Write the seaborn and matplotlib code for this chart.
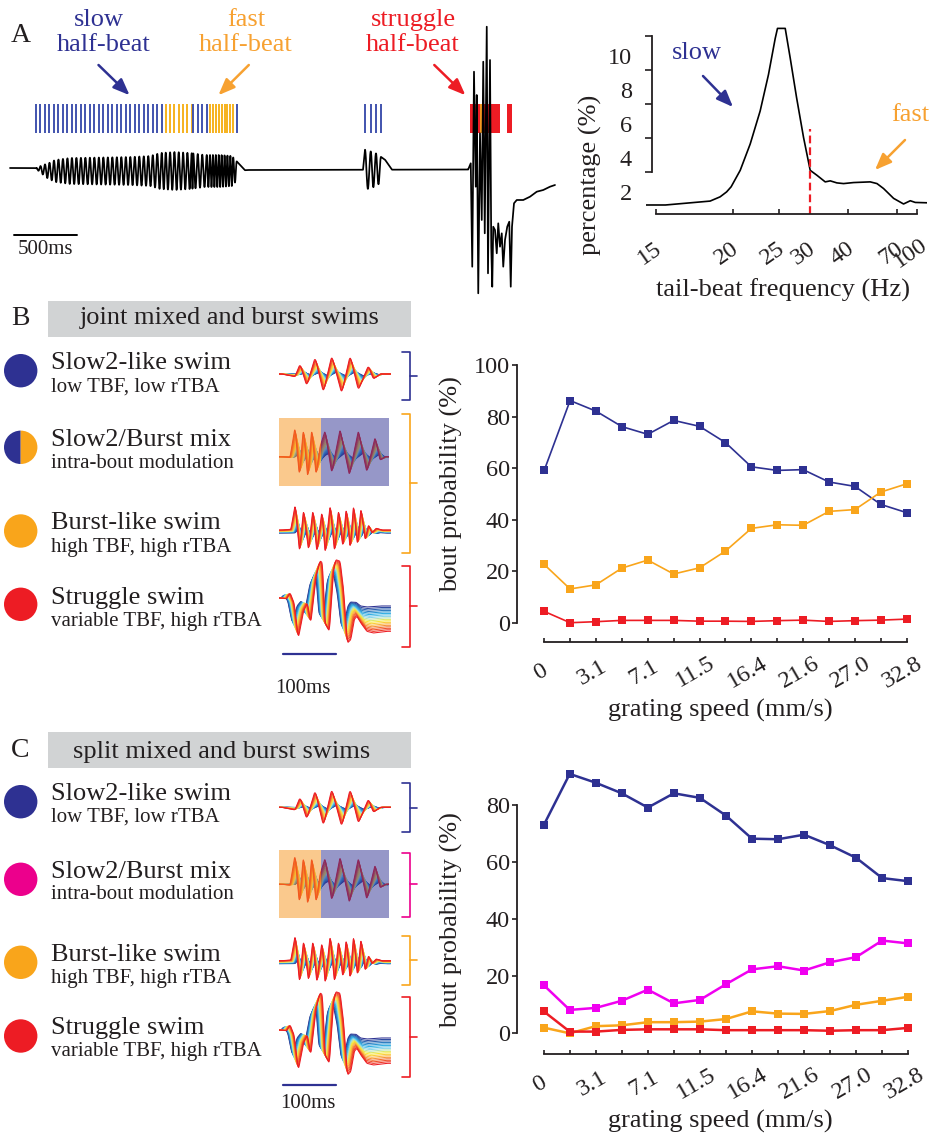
import numpy as np
import pandas as pd
import matplotlib
matplotlib.use("Agg")
import matplotlib.pyplot as plt
import matplotlib.transforms as mtransforms
from matplotlib.patches import Circle, Wedge, Rectangle
from matplotlib.colors import LinearSegmentedColormap
from matplotlib.ticker import NullLocator
import seaborn as sns

sns.set_theme(style="ticks")
INK = "#231F20"
plt.rcParams["font.family"] = ["Liberation Serif", "DejaVu Serif"]
plt.rcParams.update({"text.color": INK, "axes.labelcolor": INK, "xtick.color": INK,
                     "ytick.color": INK, "axes.edgecolor": INK})

NAVY = "#2E3192"; ORANGE = "#F9A51B"; RED = "#ED1C24"; MAGENTA = "#F000F0"; PINK = "#EC008C"
RASTER_BLUE = "#4153AE"; RASTER_ORANGE = "#F6B21E"; GREY = "#D1D3D4"; TXT_ORANGE = "#F7A131"

# ------------------------------------------------------------------ data
# Panel A (right): tail-beat frequency distribution
tbf_hz = [14.52, 15.47, 18.2, 18.95, 19.47, 19.85, 20.66, 21.63, 22.69, 23.66, 24.51, 24.81,
          25.89, 26.64, 27.66, 28.86, 30.12, 31.5, 33.4, 34.67, 36.5, 38.53, 42.05, 49.6,
          53.5, 57.9, 66.3, 77.4, 87.3, 96.4, 127.8]
tbf_pct = [0.06, 0.06, 0.29, 0.54, 0.83, 1.13, 2.10, 3.65, 5.59, 7.73, 9.86, 10.45,
           10.45, 8.70, 6.37, 4.04, 2.10, 1.81, 1.42, 1.48, 1.36, 1.32, 1.38, 1.42,
           1.32, 1.03, 0.45, 0.12, 0.31, 0.21, 0.19]
tbf_ticks = [15, 20, 25, 30, 40, 70, 100]
tbf_threshold = 30
tbf_threshold_top = 4.52
pct_ticks = [2, 4, 6, 8, 10]

# Panels B / C: bout probability vs grating speed
speed_labels = ["0", "", "3.1", "", "7.1", "", "11.5", "", "16.4", "", "21.6", "", "27.0", "", "32.8"]
B_slow = [59.1, 86.2, 82.1, 76.1, 73.1, 78.5, 76.2, 69.9, 60.5, 59.1, 59.4, 54.6, 52.9, 45.9, 42.7]
B_burst = [22.6, 13.1, 14.7, 21.2, 24.3, 18.9, 21.3, 27.8, 36.6, 38.0, 37.8, 43.2, 43.9, 50.7, 53.9]
B_struggle = [4.4, 0.0, 0.4, 0.9, 0.9, 0.9, 0.6, 0.6, 0.5, 0.8, 1.0, 0.5, 0.8, 1.0, 1.4]
C_slow = [72.9, 90.9, 87.8, 84.1, 79.1, 84.1, 82.5, 76.3, 68.2, 68.0, 69.6, 65.9, 61.5, 54.4, 53.3]
C_mix = [16.9, 8.2, 8.9, 11.4, 15.3, 10.5, 11.7, 17.2, 22.4, 23.5, 22.0, 24.9, 26.7, 32.5, 31.5]
C_burst = [2.0, 0.0, 2.5, 2.8, 3.9, 3.9, 4.1, 5.0, 7.7, 6.9, 6.8, 7.8, 10.0, 11.4, 12.8]
C_struggle = [7.7, 0.6, 0.6, 1.2, 1.4, 1.4, 1.4, 1.1, 1.1, 1.1, 1.1, 0.9, 1.1, 1.1, 1.9]

# Panel A (left): example tail trace (ms, px)
raster_start = [208, 1246, 1466, 1600, 1814]
raster_end = [1214, 1454, 1574, 1786, 1814]
raster_count = [29, 7, 4, 9, 1]
raster_kind = ["slow", "fast", "slow", "fast", "slow"]
bout2_beats = [2840, 2886, 2928, 2968]
struggle_spans = [(3680, 3920), (3974, 4014)]
struggle_fast_beat = [3768]
env1_t = [214, 280, 360, 480, 720, 960, 1120, 1200, 1320, 1440, 1560, 1680, 1776, 1824, 1880]
env1_a = [1, 6, 11, 13, 13.5, 14, 15, 18, 19, 18, 16, 16, 15, 8, 0]
env2_t = [2824, 2840, 2920, 3000, 3040, 3056]
env2_a = [0, 20, 17, 10, 3, 0]
offset_t = [0, 200, 300, 1800, 1900, 3666]
offset_v = [0, 0, -3, -3, -2, -1.5]
struggle_t = [3666, 3686, 3698, 3712, 3726, 3734, 3746, 3760, 3774, 3786, 3798, 3814, 3824, 3840,
              3850, 3858, 3866, 3880, 3894, 3906, 3920, 3934, 3946, 3960, 3978, 3994, 4006, 4016,
              4032, 4054, 4106, 4160, 4214, 4266, 4320, 4360]
struggle_v = [-1.3, 4.7, -98.7, 96.3, -18.7, 73, -125.3, 34.7, -52, 106.3, -65.3, 141.3, -105.3, 108,
              -78.7, -118.7, -58.7, -62, -85.3, -55.3, -78.7, -65.3, -98.7, -72, -58.7, -53.7, -118.7,
              -58.7, -35.3, -32, -32, -28.7, -23.7, -22, -18.7, -17]

# Panels B / C (left): swim-type waveform templates (ms, px)
slow_t = [0, 25, 34.5, 47, 63, 78.5, 94.3, 113, 129, 144.5, 163.4, 172.8, 185.5, 201]
slow_v = [0, -2.7, 10, -11.7, 16.7, -18.3, 18.3, -19.3, 18.3, -16, 8.3, -5, 0, 0]
mix_t = [0, 15.7, 25.1, 33.3, 40.8, 49, 56.6, 64.7, 72.3, 81.7, 94.3, 110, 127.5, 144.5, 160.4,
         176, 185.5, 195, 201.3]
mix_v = [0, -0.7, 29.3, -19.3, 28.3, -21.7, 28.3, -18.3, 10, 26, -16, 27.3, -18.3, 26, -15,
         19.3, -3.3, 0, 0]
burst_t = [0, 17, 25.1, 33.3, 40.8, 50.2, 58.5, 66, 75.5, 81.7, 91.1, 99.3, 106.8, 115.1, 121.3,
           128.9, 135.1, 142.6, 149.1, 157.2, 163.4, 169.8, 177.9, 188.7, 198.1]
burst_v = [0, 0.7, 25, -21.7, 20, -20, 20, -21.7, 18.3, -23.3, 25, -21.7, 20, -16.7, 21.7,
           -18.3, 25, -15, 21.7, -10, 5, -2.7, 1.7, 0, 0]
strug_t = [0, 9.4, 15.7, 23.2, 31.3, 40.8, 48.3, 54.7, 64.7, 72.3, 76.6, 81.7, 89.8, 97.4, 101.9,
           110, 116.2, 123.8, 130.2, 136.4, 141.5, 149.1, 160.4, 172.8, 198.1]
strug_v = [0, -0.7, 5, -5, -40, -13.3, -5, -25, 21.7, 37.3, 35, -25, -33.3, 26.7, 38.3,
           36.7, 10, -45, -41.7, -21.7, -18.3, -25, -33.3, -35, -33.3]

row_titles = ["Slow2-like swim", "Slow2/Burst mix", "Burst-like swim", "Struggle swim"]
row_subtitles = ["low TBF, low rTBA", "intra-bout modulation", "high TBF, high rTBA",
                 "variable TBF, high rTBA"]

# ------------------------------------------------------------------ layout helpers
W, H = 931, 1138
fig = plt.figure(figsize=(W / 100, H / 100), dpi=100)
fig.patch.set_facecolor("white")


def rect(l, t, r, b):
    return [l / W, 1 - b / H, (r - l) / W, (b - t) / H]


ov = fig.add_axes([0, 0, 1, 1])
ov.set_xlim(0, W)
ov.set_ylim(H, 0)
ov.axis("off")


def arrow(x0, y0, x1, y1, color):
    ov.annotate("", xy=(x1, y1), xytext=(x0, y0),
                arrowprops=dict(arrowstyle="-|>,head_length=0.55,head_width=0.22", color=color,
                                lw=1.8, shrinkA=0, shrinkB=0, mutation_scale=18))


# ------------------------------------------------------------------ Panel A left: trace
axT = fig.add_axes(rect(0, 0, 560, 300))
axT.set_xlim(-80, 4400)
axT.set_ylim(-132, 168)
axT.axis("off")

events, kinds = [], []
for s, e, n, k in zip(raster_start, raster_end, raster_count, raster_kind):
    ev = np.linspace(s, e, n)
    events.extend(ev)
    kinds.extend([k] * n)
events = np.array(events)
for ev, k in zip(events, kinds):
    axT.vlines(ev, 35, 64, color=RASTER_BLUE if k == "slow" else RASTER_ORANGE, lw=1.4)
axT.vlines(bout2_beats, 35, 64, color=RASTER_BLUE, lw=1.4)
for s, e in struggle_spans:
    axT.fill_between([s, e], 35, 64, color=RED, lw=0)
axT.vlines(struggle_fast_beat, 35, 64, color=RASTER_ORANGE, lw=1.2)

all_ev = np.concatenate([events, bout2_beats])
tg = np.arange(0, 3666, 0.5)
phase = np.interp(tg, all_ev, 2 * np.pi * np.arange(len(all_ev)))
env = np.interp(tg, env1_t, env1_a, left=0, right=0) + np.interp(tg, env2_t, env2_a, left=0, right=0)
trace_v = np.interp(tg, offset_t, offset_v) + env * np.cos(phase)
full_t = np.concatenate([tg, struggle_t])
full_v = np.concatenate([trace_v, struggle_v])
sns.lineplot(x=full_t, y=full_v, sort=False, estimator=None, color="black", lw=1.25, ax=axT)
axT.plot([34, 534], [168 - 234.8] * 2, color="black", lw=1.4)
axT.set_zorder(2)

ov.text(20.8, 35, "A", fontsize=20, ha="center", va="center")
ov.text(98.5, 20, "slow", fontsize=19, color=NAVY, ha="center", va="center")
ov.text(103.8, 45, "half-beat", fontsize=19, color=NAVY, ha="center", va="center")
ov.text(246, 20, "fast", fontsize=19, color=TXT_ORANGE, ha="center", va="center")
ov.text(245.4, 45, "half-beat", fontsize=19, color=TXT_ORANGE, ha="center", va="center")
ov.text(413, 20, "struggle", fontsize=19, color=RED, ha="center", va="center")
ov.text(413, 45, "half-beat", fontsize=19, color=RED, ha="center", va="center")
arrow(98.5, 65, 129.6, 95.2, NAVY)
arrow(248.8, 65, 218.4, 95.2, TXT_ORANGE)
arrow(434.3, 65, 465.4, 95.2, RED)
ov.text(45.8, 249.8, "500ms", fontsize=15, ha="center", va="center")

# ------------------------------------------------------------------ Panel A right: TBF distribution
axA = fig.add_axes(rect(646, 26.7, 927, 214))
sns.lineplot(x=tbf_hz, y=tbf_pct, color="black", lw=1.2, ax=axA, estimator=None)


def fwd(f):
    f = np.asarray(f, dtype=float)
    with np.errstate(divide="ignore", invalid="ignore"):
        return -1.0 / f


def inv(p):
    p = np.asarray(p, dtype=float)
    with np.errstate(divide="ignore", invalid="ignore"):
        return -1.0 / p


axA.set_xscale("function", functions=(fwd, inv))
axA.set_xlim(min(tbf_hz), max(tbf_hz))
axA.set_ylim(-0.47, 10.55)
axA.vlines(tbf_threshold, -0.47, tbf_threshold_top, color=RED, lw=1.6, linestyles=(0, (3.5, 1.8)))
axA.set_xticks(tbf_ticks)
axA.set_xticklabels([str(v) for v in tbf_ticks])
axA.xaxis.set_minor_locator(NullLocator())
axA.set_yticks(pct_ticks)
axA.set_yticklabels([str(v) for v in pct_ticks])
for s in ["top", "right"]:
    axA.spines[s].set_visible(False)
axA.spines["left"].set_position(("data", 14.8))
axA.spines["left"].set_bounds(2, 10)
axA.spines["bottom"].set_bounds(15, 100)
for s in ["left", "bottom"]:
    axA.spines[s].set_linewidth(1.3)
axA.tick_params(axis="y", direction="out", length=5, width=1.2, pad=9.5, labelsize=17.5)
axA.tick_params(axis="x", direction="in", length=3.6, width=1.2, pad=28.5, labelsize=17.5)
axA.set_xlabel("tail-beat frequency (Hz)", fontsize=19, va="center")
axA.set_ylabel("percentage (%)", fontsize=19, va="center")
axA.xaxis.set_label_coords(0.489, -0.406)
axA.yaxis.set_label_coords(-0.199, 0.208)
axA.patch.set_alpha(0)
ov.text(696.7, 53.3, "slow", fontsize=19, color=NAVY, ha="center", va="center")
ov.text(910, 115, "fast", fontsize=19, color=TXT_ORANGE, ha="center", va="center")
arrow(703, 76, 733, 107, NAVY)
arrow(905, 140, 875, 170, TXT_ORANGE)


# ------------------------------------------------------------------ Panels B / C right
def prob_panel(box, ylim, yticks, series, names, colors, lw, ms, xlabel_xy, ylabel_xy):
    ax = fig.add_axes(rect(*box))
    idx = np.arange(len(speed_labels))
    df = pd.concat([pd.DataFrame({"speed": idx, "prob": s, "type": n}) for s, n in zip(series, names)])
    sns.lineplot(data=df, x="speed", y="prob", hue="type", hue_order=names,
                 palette=dict(zip(names, colors)), marker="s", markersize=ms, markeredgewidth=0,
                 lw=lw, legend=False, estimator=None, ax=ax)
    ax.set_xlim(*ylim[0])
    ax.set_ylim(*ylim[1])
    ax.set_xticks(idx)
    ax.set_xticklabels(speed_labels)
    ax.set_yticks(yticks)
    ax.set_yticklabels([str(v) for v in yticks])
    for s in ["top", "right"]:
        ax.spines[s].set_visible(False)
    ax.spines["left"].set_bounds(yticks[0], yticks[-1])
    ax.spines["bottom"].set_bounds(0, len(idx) - 1)
    for s in ["left", "bottom"]:
        ax.spines[s].set_linewidth(1.3)
    ax.tick_params(axis="y", direction="out", length=3.5, width=1.2, pad=1.5, labelsize=17.5)
    ax.tick_params(axis="x", direction="in", length=3.2, width=1.2, pad=21.5, labelsize=17.5)
    for lbl in ax.get_xticklabels():
        lbl.set_rotation(30)
        lbl.set_ha("center")
        lbl.set_va("center")
        lbl.set_rotation_mode("anchor")
    ax.set_xlabel("grating speed (mm/s)", fontsize=19, va="center")
    ax.set_ylabel("bout probability (%)", fontsize=19, va="center")
    ax.xaxis.set_label_coords(*xlabel_xy)
    ax.yaxis.set_label_coords(*ylabel_xy)
    ax.patch.set_alpha(0)
    return ax


axB = prob_panel((517, 365, 914.5, 642.3), ((-1.05, 14.3), (-7.6, 100)), [0, 20, 40, 60, 80, 100],
                 [B_slow, B_burst, B_struggle], ["slow", "burst", "struggle"], [NAVY, ORANGE, RED],
                 1.2, 5.5, (0.511, -0.244), (-0.164, 0.571))
axC = prob_panel((517, 767.9, 916, 1054), ((-1.025, 14.3), (-7.25, 93.0)), [0, 20, 40, 60, 80],
                 [C_slow, C_mix, C_burst, C_struggle], ["slow", "mix", "burst", "struggle"],
                 [NAVY, MAGENTA, ORANGE, RED], 1.8, 6, (0.509, -0.237), (-0.164, 0.468))

# ------------------------------------------------------------------ Panels B / C left: legend column
wf_cmap = LinearSegmentedColormap.from_list(
    "wf", ["#2E3192", "#2B6CB5", "#29ABE2", "#9ADCEB", "#F9ED32", "#FBB040", "#F15A29", "#ED1C24"])
N_WF = 18
wf_pal = {i: wf_cmap(i / (N_WF - 1)) for i in range(N_WF)}
T_LEFT = -5.1  # ms at x = 279 px (100 ms = 53 px)


def wf_axes(base, up, dn, right=391):
    ax = fig.add_axes(rect(279, base - up, right, base + dn))
    ax.set_xlim(T_LEFT, T_LEFT + (right - 279) * 100 / 53)
    ax.set_ylim(-dn, up)
    ax.axis("off")
    return ax


def family(ax, tt, vv, shift, amp_min, amp_pow, drift=0.0, level=0.0, smooth=5):
    grid = np.arange(-5.0, 206.0, 0.5)
    ramp = np.interp(grid, [0, 115, 140, 210], [0, 0, 1, 1])
    kern = np.ones(smooth) / smooth
    frames = []
    for i in range(N_WF):
        frac = i / (N_WF - 1)
        a = amp_min + (1 - amp_min) * frac ** amp_pow
        y = a * np.interp(grid - shift * (1 - frac), tt, vv) + (1 - frac) * (drift * ramp + level)
        pad = smooth // 2
        y = np.convolve(np.pad(y, (pad, smooth - 1 - pad), mode="edge"), kern, mode="valid")
        frames.append(pd.DataFrame({"t": grid, "v": y, "k": i}))
    df = pd.concat(frames)
    sns.lineplot(data=df, x="t", y="v", hue="k", palette=wf_pal, lw=0.75, legend=False,
                 estimator=None, sort=False, ax=ax)


def legend_column(letter, letter_y, box_top, box_bot, title, title_x, title_y,
                  main_y, sub_y, circ_y, circ_kinds, bases, mix_box, brackets, bar_y, bar_txt):
    ov.add_patch(Rectangle((48, box_top), 411 - 48, box_bot - box_top, color=GREY, lw=0))
    ov.text(20, letter_y, letter, fontsize=20, ha="center", va="center")
    ov.text(title_x, title_y, title, fontsize=19, ha="center", va="center")
    for k, (cy, kind) in enumerate(zip(circ_y, circ_kinds)):
        if kind == "half":
            ov.add_patch(Wedge((20.7, cy), 16.7, 90, 270, color=NAVY, lw=0))
            ov.add_patch(Wedge((20.7, cy), 16.7, 270, 90, color=ORANGE, lw=0))
        else:
            ov.add_patch(Circle((20.7, cy), 16.7, color=kind, lw=0))
        ov.text(50.7, main_y[k], row_titles[k], fontsize=19, ha="left", va="center")
        ov.text(50.7, sub_y[k], row_subtitles[k], fontsize=15, ha="left", va="center")
    a1 = wf_axes(bases[0], 32, 32)
    family(a1, slow_t, slow_v, 10, 0.12, 1.3, smooth=9)
    top, bot = mix_box
    a2 = wf_axes(bases[1], bases[1] - top, bot - bases[1], right=389)
    family(a2, mix_t, mix_v, 10, 0.15, 1.2, smooth=5)
    t_split = T_LEFT + (321 - 279) * 100 / 53
    a2.axvspan(T_LEFT, t_split, color="#F7941D", alpha=0.5, lw=0, zorder=5)
    a2.axvspan(t_split, T_LEFT + (389 - 279) * 100 / 53, color=NAVY, alpha=0.5, lw=0, zorder=5)
    a3 = wf_axes(bases[2], 33, 33)
    family(a3, burst_t, burst_v, 8, 0.2, 1.0, level=-3, smooth=4)
    a4 = wf_axes(bases[3], 50, 62)
    family(a4, strug_t, strug_v, -12, 0.6, 1.0, drift=12, smooth=6)
    a4.plot([3, 103], [bases[3] - bar_y] * 2, color=NAVY, lw=1.6)
    ov.text(bar_txt[0], bar_txt[1], "100ms", fontsize=15, ha="center", va="center")
    for t0, b0, m0, col in brackets:
        ov.plot([402, 410, 410, 402], [t0, t0, b0, b0], color=col, lw=1.2, solid_joinstyle="round")
        ov.plot([410, 417], [m0, m0], color=col, lw=1.2)


legend_column("B", 318.3, 301, 337, "joint mixed and burst swims", 230, 318.3,
              [363.3, 440, 523.3, 597.7], [386.7, 463.3, 547.3, 621.7],
              [370.7, 447.3, 531, 604.3], [NAVY, "half", ORANGE, RED],
              [374, 456.7, 530, 598], (417.7, 485.7),
              [(351.7, 400, 376, NAVY), (414, 553.3, 483.3, ORANGE), (565.7, 646.7, 606, RED)],
              654, (303.3, 688.3))
legend_column("C", 750, 731.7, 767.7, "split mixed and burst swims", 221.7, 751.7,
              [794, 871.7, 955, 1028.3], [817.3, 894, 978.3, 1051.7],
              [801.7, 879.3, 962.3, 1036], [NAVY, PINK, ORANGE, RED],
              [807.3, 884.3, 960.7, 1030], (850, 917.7),
              [(783.3, 831.7, 807.7, NAVY), (852.7, 917.3, 884.3, PINK),
               (935.7, 985, 960, ORANGE), (997.3, 1077.3, 1037.3, RED)],
              1085, (308.3, 1104))

# ------------------------------------------------------------------ tick-label placement tweaks
for lbl in axA.get_xticklabels():
    lbl.set_rotation(35)
    lbl.set_ha("center")
    lbl.set_va("center")
    lbl.set_rotation_mode("anchor")
    lbl.set_transform(lbl.get_transform() + mtransforms.ScaledTranslation(-0.06, 0, fig.dpi_scale_trans))
for lbl in axA.get_yticklabels():
    lbl.set_transform(lbl.get_transform() + mtransforms.ScaledTranslation(0, -0.20, fig.dpi_scale_trans))
for ax in (axB, axC):
    for lbl in ax.get_xticklabels():
        lbl.set_transform(lbl.get_transform() + mtransforms.ScaledTranslation(-0.04, 0, fig.dpi_scale_trans))

fig.savefig("out.png", dpi=100)
